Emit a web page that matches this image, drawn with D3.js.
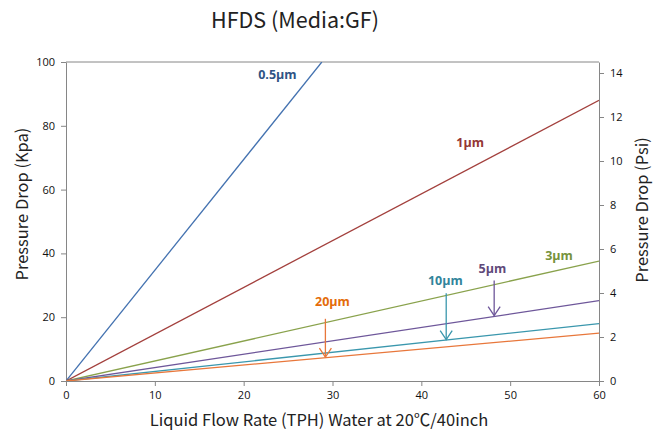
<!DOCTYPE html>
<html><head><meta charset="utf-8">
<script src="https://cdn.jsdelivr.net/npm/d3@7"></script>
<style>body{margin:0;background:#fff}svg{display:block}</style>
</head><body>
<script>
const flowTicks = [0,10,20,30,40,50,60];
const kpaTicks = [0,20,40,60,80,100];
const psiTicks = [0,2,4,6,8,10,12,14];
const seriesNames = ["0.5µm","1µm","3µm","5µm","10µm","20µm"];
const seriesFlow = [[0,28.8],[0,60],[0,60],[0,60],[0,60],[0,60]];
const seriesKpa = [[0,100],[0,88],[0,37.6],[0,25.2],[0,18],[0,15]];
const lineColors = ["#4472b0","#a3403d","#89a24c","#6e579a","#3a97ad","#e8773b"];
const labelColors = ["#2f5385","#943634","#76923c","#5f497a","#31849b","#e46c0a"];
// label anchor positions in data units (flow, kPa)
const labelFlow = [23.8,45.5,55.5,48,42.7,30];
const labelKpa = [94.8,73.5,38,34,30,23.5];
// arrows: [series index, flow, from kPa, to kPa]
const arrowIdx = [5,4,3];
const arrowFlow = [29.2,42.8,48.2];
const arrowFrom = [19.5,27.5,31.5];
const arrowTo = [7.5,13,20.5];

const W=662,H=432, m={l:66,r:63,t:62,b:51};
const svg=d3.select("body").append("svg").attr("width",W).attr("height",H);
const x=d3.scaleLinear().domain([0,60]).range([m.l,W-m.r]);
const y=d3.scaleLinear().domain([0,100]).range([H-m.b,m.t]);
const y2=d3.scaleLinear().domain([0,14.5]).range([H-m.b,m.t]);
const font="'Noto Sans CJK SC','Open Sans',sans-serif";
const axisCol="#868686";

svg.append("text").attr("x",295).attr("y",28).attr("text-anchor","middle")
  .attr("font-family",font).attr("font-size",21.5).attr("fill","#222").text("HFDS (Media:GF)");

// frame
svg.append("line").attr("x1",x(0)).attr("x2",x(60)).attr("y1",y(100)).attr("y2",y(100)).attr("stroke",axisCol);

function styleAxis(g){
  g.selectAll("path").attr("stroke",axisCol);
  g.selectAll("line").attr("stroke",axisCol);
  g.selectAll("text").attr("font-family","'Open Sans',sans-serif").attr("font-size",11).attr("fill","#111");
}
svg.append("g").attr("transform",`translate(0,${y(0)})`)
  .call(d3.axisBottom(x).tickValues(flowTicks).tickSize(5).tickSizeOuter(0).tickPadding(5)).call(styleAxis);
svg.append("g").attr("transform",`translate(${x(0)},0)`)
  .call(d3.axisLeft(y).tickValues(kpaTicks).tickSize(5).tickSizeOuter(0).tickPadding(6)).call(styleAxis);
svg.append("g").attr("transform",`translate(${x(60)},0)`)
  .call(d3.axisRight(y2).tickValues(psiTicks).tickSize(5).tickSizeOuter(0).tickPadding(6)).call(styleAxis);

svg.append("defs").append("clipPath").attr("id","c").append("rect")
  .attr("x",x(0)).attr("y",y(100)).attr("width",x(60)-x(0)).attr("height",y(0)-y(100));

const line=d3.line().x(d=>x(d[0])).y(d=>y(d[1]));
const gl=svg.append("g").attr("clip-path","url(#c)");
seriesNames.forEach((n,i)=>{
  const pts=seriesFlow[i].map((f,j)=>[f,seriesKpa[i][j]]);
  gl.append("path").attr("d",line(pts)).attr("fill","none").attr("stroke",lineColors[i]).attr("stroke-width",1.3);
});
seriesNames.forEach((n,i)=>{
  svg.append("text").attr("x",x(labelFlow[i])).attr("y",y(labelKpa[i])).attr("text-anchor","middle")
    .attr("font-family","'Open Sans',sans-serif").attr("font-weight","bold").attr("font-size",12.5)
    .attr("fill",labelColors[i]).text(n);
});
arrowIdx.forEach((si,k)=>{
  const ax=x(arrowFlow[k]), y1=y(arrowFrom[k]), y2p=y(arrowTo[k]);
  const c=lineColors[si];
  svg.append("line").attr("x1",ax).attr("x2",ax).attr("y1",y1).attr("y2",y2p).attr("stroke",c).attr("stroke-width",1.3);
  svg.append("path").attr("d",`M${ax-6},${y2p-9}L${ax},${y2p}L${ax+6},${y2p-9}`).attr("fill","none").attr("stroke",c).attr("stroke-width",1.3);
});

svg.append("text").attr("transform",`translate(28,204) rotate(-90)`).attr("text-anchor","middle")
  .attr("font-family",font).attr("font-size",16.5).attr("fill","#222").text("Pressure Drop (Kpa)");
svg.append("text").attr("transform",`translate(648,210) rotate(-90)`).attr("text-anchor","middle")
  .attr("font-family",font).attr("font-size",16.5).attr("fill","#222").text("Pressure Drop (Psi)");
svg.append("text").attr("x",319).attr("y",426).attr("text-anchor","middle")
  .attr("font-family",font).attr("font-size",16.5).attr("fill","#222").text("Liquid Flow Rate (TPH) Water at 20℃/40inch");
</script>
</body></html>
